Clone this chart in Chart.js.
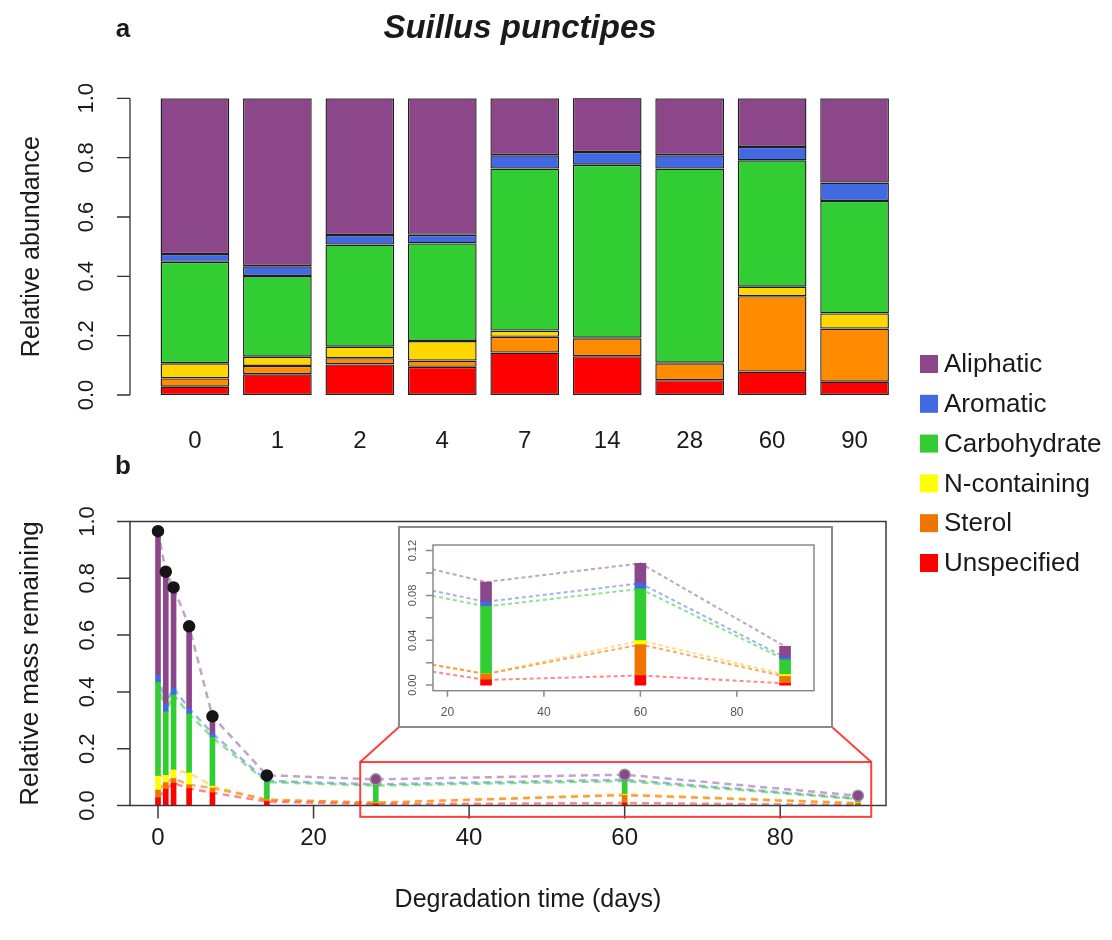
<!DOCTYPE html>
<html>
<head>
<meta charset="utf-8">
<script src="https://cdn.jsdelivr.net/npm/chart.js@4.4.1/dist/chart.umd.min.js"></script>
<style>
  body { margin: 0; background: #fff; }
  #wrap { position: relative; width: 1112px; height: 940px; }
  #wrap canvas { position: absolute; left: 0; top: 0; }
</style>
</head>
<body>
<div id="wrap">
  <canvas id="chartA" width="1112" height="940"></canvas>
  <canvas id="chartB" width="1112" height="940"></canvas>
  <canvas id="chartInset" width="1112" height="940"></canvas>
</div>
<script>
// ---- data ----
const days = [0, 1, 2, 4, 7, 14, 28, 60, 90];
const dayLabels = ["0", "1", "2", "4", "7", "14", "28", "60", "90"];
const legendNames = ["Aliphatic", "Aromatic", "Carbohydrate", "N-containing", "Sterol", "Unspecified"];

// relative abundance per compound class (panel a), bottom of the stack first
const unspecified  = [0.028, 0.070, 0.103, 0.095, 0.143, 0.131, 0.050, 0.079, 0.045];
const sterol       = [0.028, 0.028, 0.021, 0.021, 0.053, 0.060, 0.057, 0.254, 0.179];
const nContaining  = [0.051, 0.031, 0.039, 0.066, 0.021, 0.002, 0.002, 0.032, 0.051];
const carbohydrate = [0.342, 0.272, 0.344, 0.329, 0.546, 0.583, 0.654, 0.426, 0.379];
const aromatic     = [0.026, 0.033, 0.032, 0.029, 0.045, 0.043, 0.045, 0.045, 0.062];
const aliphatic    = [0.525, 0.566, 0.461, 0.460, 0.192, 0.183, 0.192, 0.164, 0.284];

// relative mass remaining (panel b, top of each stack)
const massRemaining = [0.966, 0.823, 0.768, 0.631, 0.314, 0.106, 0.092, 0.1086, 0.0345];

// ticks
const abundanceTicks = [0, 0.2, 0.4, 0.6, 0.8, 1.0];
const abundanceTickLabels = ["0.0", "0.2", "0.4", "0.6", "0.8", "1.0"];
const massTicks = [0, 0.2, 0.4, 0.6, 0.8, 1.0];
const massTickLabels = ["0.0", "0.2", "0.4", "0.6", "0.8", "1.0"];
const dayTicks = [0, 20, 40, 60, 80];
const insetYTicks = [0, 0.02, 0.04, 0.06, 0.08, 0.10, 0.12];
const insetYTickLabels = ["0.00", "", "0.04", "", "0.08", "", "0.12"];
const insetXTicks = [20, 40, 60, 80];

// ---- styling ----
const stackNames = ["Unspecified", "Sterol", "N-containing", "Carbohydrate", "Aromatic", "Aliphatic"];
const stackData = [unspecified, sterol, nContaining, carbohydrate, aromatic, aliphatic];
const barColors = ["#FF0000", "#FF8C00", "#FFD700", "#32CD32", "#4169E1", "#8B4789"];
const massColors = ["#FF0000", "#EE7600", "#FFFF00", "#32CD32", "#4169E1", "#8B4789"];
const dashColors = ["rgba(255,40,40,0.55)", "rgba(238,118,0,0.6)", "rgba(255,200,60,0.6)",
                    "rgba(50,205,50,0.55)", "rgba(65,105,225,0.5)", "rgba(139,71,137,0.5)"];
const legendColors = { "Aliphatic": "#8B4789", "Aromatic": "#4169E1", "Carbohydrate": "#32CD32",
                       "N-containing": "#FFFF00", "Sterol": "#EE7600", "Unspecified": "#FF0000" };
const FONT = "'Liberation Sans', Arial, sans-serif";
const insetFrame = { left: 399, top: 527, right: 832, bottom: 727 };
const zoomRegion = { xMin: 26, xMax: 91.7, yMin: -0.04, yMax: 0.153 };

// cumulative levels for panel b: abundance share times mass remaining
const lower = [], upper = [];
let running = days.map(() => 0);
stackData.forEach(arr => {
    lower.push(running.slice());
    running = running.map((r, i) => r + arr[i]);
    upper.push(running.map((r, i) => r * massRemaining[i]));
});
for (let k = 0; k < lower.length; k++) {
    lower[k] = lower[k].map((r, i) => r * massRemaining[i]);
}

// text helper
function text(ctx, str, x, y, font, opts = {}) {
    ctx.save();
    ctx.font = font;
    ctx.fillStyle = opts.color || "#1a1a1a";
    ctx.textAlign = opts.align || "center";
    ctx.textBaseline = opts.baseline || "middle";
    ctx.translate(x, y);
    if (opts.rotate) ctx.rotate(opts.rotate);
    ctx.fillText(str, 0, 0);
    ctx.restore();
}

// ---- panel a: stacked bars ----
const panelADecor = {
    id: "panelADecor",
    afterDraw(chart) {
        const ctx = chart.ctx;
        const y = chart.scales.y, x = chart.scales.x;
        ctx.save();
        ctx.strokeStyle = "#333";
        ctx.lineWidth = 1.3;
        ctx.beginPath();
        ctx.moveTo(130, y.getPixelForValue(0));
        ctx.lineTo(130, y.getPixelForValue(1));
        abundanceTicks.forEach(v => {
            ctx.moveTo(117, y.getPixelForValue(v));
            ctx.lineTo(130, y.getPixelForValue(v));
        });
        ctx.stroke();
        ctx.restore();
        abundanceTicks.forEach((v, i) => {
            text(ctx, abundanceTickLabels[i], 87, y.getPixelForValue(v), "22px " + FONT, { rotate: -Math.PI / 2 });
        });
        dayLabels.forEach((lab, i) => {
            text(ctx, lab, x.getPixelForValue(i), 441, "24px " + FONT);
        });
        text(ctx, "Relative abundance", 32, (y.getPixelForValue(0) + y.getPixelForValue(1)) / 2,
             "25px " + FONT, { rotate: -Math.PI / 2 });
        text(ctx, "Suillus punctipes", 520, 29, "italic bold 33px " + FONT);
        text(ctx, "a", 123, 30, "bold 26px " + FONT);

        // legend
        legendNames.forEach((name, i) => {
            const cy = 364 + i * 39.8;
            ctx.fillStyle = legendColors[name];
            ctx.fillRect(920, cy - 9, 18, 18);
            text(ctx, name, 944, cy + 1, "26px " + FONT, { align: "left" });
        });
    }
};

new Chart(document.getElementById("chartA"), {
    type: "bar",
    data: {
        labels: dayLabels,
        datasets: stackNames.map((name, k) => ({
            label: name,
            data: stackData[k],
            backgroundColor: barColors[k],
            borderColor: "#1e1e1e",
            borderWidth: 1.4,
            borderSkipped: false,
            barPercentage: 0.833,
            categoryPercentage: 1
        }))
    },
    options: {
        responsive: false,
        animation: false,
        layout: { padding: { left: 153.7, right: 216.2, top: 98.3, bottom: 545 } },
        plugins: { legend: { display: false }, tooltip: { enabled: false } },
        scales: {
            x: { display: false, stacked: true },
            y: { display: false, stacked: true, min: 0, max: 1 }
        }
    },
    plugins: [panelADecor]
});

// ---- panel b: mass remaining ----
function massDatasets(barWidth, dash, lineWidth, clip) {
    const sets = [];
    stackNames.forEach((name, k) => {
        sets.push({
            type: "line",
            label: name + " level",
            data: days.map((d, i) => ({ x: d, y: upper[k][i] })),
            borderColor: dashColors[k],
            borderWidth: lineWidth,
            borderDash: dash,
            pointRadius: 0,
            fill: false,
            tension: 0,
            order: 3,
            clip: clip
        });
    });
    stackNames.forEach((name, k) => {
        sets.push({
            type: "bar",
            label: name,
            data: days.map((d, i) => ({ x: d, y: [lower[k][i], upper[k][i]] })),
            backgroundColor: massColors[k],
            borderWidth: 0,
            barThickness: barWidth,
            grouped: false,
            order: 2,
            clip: clip
        });
    });
    return sets;
}

const panelBDecor = {
    id: "panelBDecor",
    afterDraw(chart) {
        const ctx = chart.ctx;
        const a = chart.chartArea;
        const x = chart.scales.x, y = chart.scales.y;
        ctx.save();
        ctx.strokeStyle = "#3a3a3a";
        ctx.lineWidth = 1.5;
        ctx.strokeRect(a.left, a.top, a.right - a.left, a.bottom - a.top);
        ctx.beginPath();
        massTicks.forEach(v => {
            ctx.moveTo(a.left - 13, y.getPixelForValue(v));
            ctx.lineTo(a.left, y.getPixelForValue(v));
        });
        dayTicks.forEach(v => {
            ctx.moveTo(x.getPixelForValue(v), a.bottom);
            ctx.lineTo(x.getPixelForValue(v), a.bottom + 13);
        });
        ctx.stroke();

        // zoom rectangle and connectors to the inset
        const zx0 = x.getPixelForValue(zoomRegion.xMin), zx1 = x.getPixelForValue(zoomRegion.xMax);
        const zy0 = y.getPixelForValue(zoomRegion.yMax), zy1 = y.getPixelForValue(zoomRegion.yMin);
        ctx.strokeStyle = "rgba(255,30,30,0.85)";
        ctx.lineWidth = 2;
        ctx.strokeRect(zx0, zy0, zx1 - zx0, zy1 - zy0);
        ctx.beginPath();
        ctx.moveTo(zx0, zy0); ctx.lineTo(insetFrame.left, insetFrame.bottom);
        ctx.moveTo(zx1, zy0); ctx.lineTo(insetFrame.right, insetFrame.bottom);
        ctx.stroke();
        ctx.restore();

        massTicks.forEach((v, i) => {
            text(ctx, massTickLabels[i], 88, y.getPixelForValue(v), "22px " + FONT, { rotate: -Math.PI / 2 });
        });
        dayTicks.forEach(v => {
            text(ctx, String(v), x.getPixelForValue(v), 838, "24px " + FONT);
        });
        text(ctx, "Degradation time (days)", 528, 900, "25px " + FONT);
        text(ctx, "Relative mass remaining", 31, (a.top + a.bottom) / 2, "26px " + FONT, { rotate: -Math.PI / 2 });
        text(ctx, "b", 123, 467, "bold 26px " + FONT);
    }
};

const pointData = days.map((d, i) => ({ x: d, y: massRemaining[i] }));
new Chart(document.getElementById("chartB"), {
    type: "bar",
    data: {
        datasets: massDatasets(5, [7, 5], 2.5, false).concat([{
            type: "scatter",
            label: "Total",
            data: pointData,
            pointRadius: 5.5,
            pointBorderWidth: 1.5,
            pointBackgroundColor: days.map(d => d >= 28 ? "#8B4789" : "#151515"),
            pointBorderColor: days.map(d => d >= 28 ? "#9a9a9a" : "#151515"),
            order: 1
        }])
    },
    options: {
        responsive: false,
        animation: false,
        layout: { padding: { left: 130, right: 226, top: 521.5, bottom: 134.5 } },
        plugins: { legend: { display: false }, tooltip: { enabled: false } },
        scales: {
            x: { type: "linear", display: false, min: -3.6, max: 93.6, offset: false },
            y: { display: false, min: 0, max: 1 }
        }
    },
    plugins: [panelBDecor]
});

// ---- inset: zoom of days 28-90 ----
const insetDecor = {
    id: "insetDecor",
    beforeDraw(chart) {
        const ctx = chart.ctx;
        ctx.save();
        ctx.fillStyle = "#fff";
        ctx.fillRect(insetFrame.left, insetFrame.top, insetFrame.right - insetFrame.left, insetFrame.bottom - insetFrame.top);
        ctx.strokeStyle = "#8a8a8a";
        ctx.lineWidth = 2;
        ctx.strokeRect(insetFrame.left, insetFrame.top, insetFrame.right - insetFrame.left, insetFrame.bottom - insetFrame.top);
        ctx.restore();
    },
    afterDraw(chart) {
        const ctx = chart.ctx;
        const a = chart.chartArea;
        const x = chart.scales.x, y = chart.scales.y;
        ctx.save();
        ctx.strokeStyle = "#8a8a8a";
        ctx.lineWidth = 1.5;
        ctx.strokeRect(a.left, a.top, a.right - a.left, a.bottom - a.top);
        ctx.beginPath();
        insetYTicks.forEach(v => {
            ctx.moveTo(a.left - 7, y.getPixelForValue(v));
            ctx.lineTo(a.left, y.getPixelForValue(v));
        });
        insetXTicks.forEach(v => {
            ctx.moveTo(x.getPixelForValue(v), a.bottom);
            ctx.lineTo(x.getPixelForValue(v), a.bottom + 6);
        });
        ctx.stroke();
        ctx.restore();
        insetYTicks.forEach((v, i) => {
            if (insetYTickLabels[i]) {
                text(ctx, insetYTickLabels[i], 413, y.getPixelForValue(v), "11px " + FONT,
                     { rotate: -Math.PI / 2, color: "#555" });
            }
        });
        insetXTicks.forEach(v => {
            text(ctx, String(v), x.getPixelForValue(v), 713, "12px " + FONT, { color: "#555" });
        });
    }
};

new Chart(document.getElementById("chartInset"), {
    type: "bar",
    data: { datasets: massDatasets(11, [4, 3], 2, 0) },
    options: {
        responsive: false,
        animation: false,
        layout: { padding: { left: 433, right: 298, top: 545, bottom: 249.3 } },
        plugins: { legend: { display: false }, tooltip: { enabled: false } },
        scales: {
            x: { type: "linear", display: false, min: 17, max: 96, offset: false },
            y: { display: false, min: -0.005, max: 0.125 }
        }
    },
    plugins: [insetDecor]
});
</script>
</body>
</html>
